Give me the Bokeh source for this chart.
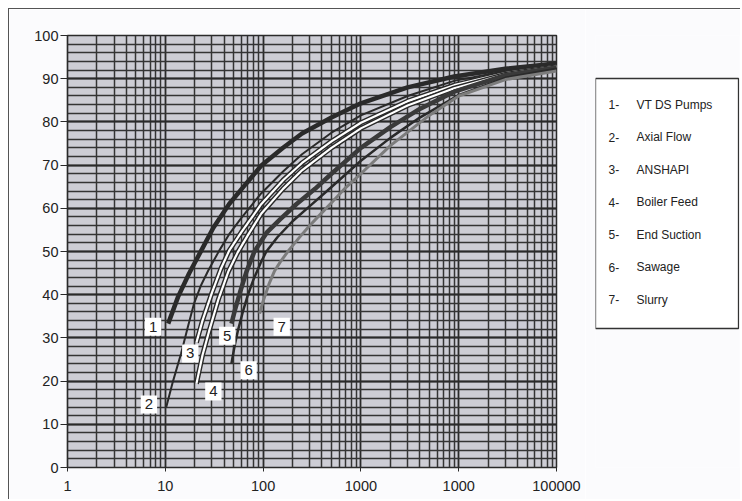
from bokeh.plotting import figure
from bokeh.models import FixedTicker, Range1d, Label
from bokeh.layouts import row
from bokeh.embed import file_html
from bokeh.resources import INLINE
from bokeh.core.properties import value

# ---------------- data ----------------
x_tick_values = [1, 10, 100, 1000, 10000, 100000]
x_tick_labels = ["1", "10", "100", "1000", "1000", "100000"]
y_tick_values = [0, 10, 20, 30, 40, 50, 60, 70, 80, 90, 100]

c1_x = [10.7, 13.5, 17.5, 23.3, 31, 45, 67, 96, 160, 250, 500, 1000, 3000, 9000, 30000, 100000]
c1_y = [33.3, 39.5, 44.9, 50.2, 55.5, 61, 65.7, 69.9, 74, 77.3, 81, 84.3, 88, 90.5, 92.3, 93.5]

c2_x = [10.2, 12, 14.5, 17, 19.7, 23, 27.5, 35.6, 45, 60, 96, 160, 250, 500, 1000, 3000, 9000, 30000, 100000]
c2_y = [13.9, 20, 26.4, 32.5, 38, 42, 45.6, 50.2, 54, 57.8, 63.5, 68.5, 72.5, 77.5, 81.5, 86, 89.5, 91.8, 93.2]

c3_x = [20.8, 24, 30, 37, 45, 60, 96, 160, 250, 500, 1000, 3000, 9000, 30000, 100000]
c3_y = [28.9, 34, 40.5, 46, 50.2, 54.5, 61, 66.5, 70.5, 75.5, 79.8, 84.8, 88.5, 91.3, 93]

c4_x = [20.8, 24, 28, 35, 44, 55, 70, 96, 160, 250, 500, 1000, 3000, 9000, 30000, 100000]
c4_y = [19.4, 26, 31.5, 39, 45.3, 49.8, 53.8, 58.8, 64.5, 68.8, 74, 78.5, 83.8, 87.8, 91, 92.8]

c5_x = [47.5, 52, 58, 67.5, 81.5, 110, 150, 220, 340, 500, 1000, 2000, 4000, 9000, 30000, 100000]
c5_y = [33.3, 36.8, 40.5, 45.3, 50, 54.5, 57.5, 61, 64.5, 68, 74, 78.8, 83, 87, 90.8, 92.6]

c6_x = [47.5, 51, 55, 62, 70, 80, 95, 108, 140, 200, 300, 450, 1000, 2000, 4000, 10000, 30000, 100000]
c6_y = [24.1, 28, 31.5, 36, 40, 43.6, 47.5, 50, 53.3, 57, 60.5, 64, 71, 76.3, 81, 86.2, 90.2, 92.3]

c7_x = [92, 100, 115, 131, 150, 182, 240, 300, 400, 500, 700, 1000, 2000, 5000, 10000, 30000, 100000]
c7_y = [35.6, 38.5, 42.5, 45.5, 47.6, 50.2, 53.5, 56, 59, 61.3, 64.8, 68, 74.5, 81.5, 86, 89.8, 91.8]

curve_tags = ["1", "2", "3", "4", "5", "6", "7"]
tag_x = [7.5, 6.8, 18.0, 31, 43, 71, 155]
tag_y = [32.6, 14.6, 26.4, 17.6, 30.5, 22.5, 32.6]

legend_nums = ["1-", "2-", "3-", "4-", "5-", "6-", "7-"]
legend_names = ["VT DS Pumps", "Axial  Flow", "ANSHAPI", "Boiler Feed", "End Suction", "Sawage", "Slurry"]

FONT = "Liberation Sans"
DARK = "#2a2a2a"
PAPER = "#fbfbfd"
H = 490

# ---------------- main chart ----------------
p = figure(width=576, height=H, x_axis_type="log",
           x_range=Range1d(1, 100000), y_range=Range1d(0, 100),
           output_backend="svg", toolbar_location=None,
           min_border_left=58, min_border_right=29, min_border_top=26, min_border_bottom=32,
           background_fill_color="#cdcdd5", border_fill_color=PAPER)
p.outline_line_color = DARK
p.outline_line_width = 1.5

minor_x = [m * 10 ** k for k in range(0, 5) for m in range(2, 10)]
xt = FixedTicker(ticks=x_tick_values, minor_ticks=minor_x)
yt = FixedTicker(ticks=y_tick_values, minor_ticks=list(range(0, 101, 2)))
p.xaxis.ticker = xt
p.yaxis.ticker = yt
p.xgrid.ticker = xt
p.ygrid.ticker = yt
p.xaxis.major_label_overrides = {v: s for v, s in zip(x_tick_values, x_tick_labels)}

for g in (p.xgrid, p.ygrid):
    g.grid_line_color = DARK
    g.grid_line_width = 1.8
    g.minor_grid_line_color = "#343434"
    g.minor_grid_line_width = 1.5

for ax in (p.xaxis, p.yaxis):
    ax.axis_line_color = DARK
    ax.axis_line_width = 1.2
    ax.major_tick_line_color = DARK
    ax.major_tick_in = 0
    ax.minor_tick_in = 0
    ax.minor_tick_out = 0
    ax.major_label_text_font = FONT
    ax.major_label_text_font_size = "14.5px"
    ax.major_label_text_color = "#222222"
p.xaxis.major_tick_out = 4
p.xaxis.major_label_standoff = 9
p.yaxis.major_tick_out = 7
p.yaxis.major_label_standoff = 2

# curves
p.line(c1_x, c1_y, line_color=DARK, line_width=4.5)
p.line(c2_x, c2_y, line_color=DARK, line_width=2)
p.line(c3_x, c3_y, line_color=DARK, line_width=5)
p.line(c3_x, c3_y, line_color="white", line_width=2.2)
p.line(c4_x, c4_y, line_color=DARK, line_width=5)
p.line(c4_x, c4_y, line_color="white", line_width=2.2)
p.line(c5_x, c5_y, line_color="#3a3a3a", line_width=4.5)
p.line(c6_x, c6_y, line_color=DARK, line_width=2.5)
p.line(c7_x, c7_y, line_color="#7c7c7c", line_width=3)

for t, tx, ty in zip(curve_tags, tag_x, tag_y):
    p.add_layout(Label(x=tx, y=ty, text=t, text_align="center", text_baseline="middle",
                       text_font=FONT, text_font_size="15px", text_color="#222222",
                       background_fill_color="white", padding=4))

# ---------------- legend panel (frame aligned with main frame; y counted in px from top) ----------------
q = figure(width=155, height=H, x_range=Range1d(0, 144), y_range=Range1d(432, 0),
           output_backend="svg", toolbar_location=None,
           min_border_left=10, min_border_right=1, min_border_top=26, min_border_bottom=32,
           background_fill_color=PAPER, border_fill_color=PAPER)
q.axis.visible = False
q.grid.visible = False
q.outline_line_color = None

q.quad(left=0, right=143, top=43, bottom=293, fill_color="white",
       line_color="#333333", line_width=1.3)

rows_y = [69 + 32.5 * i for i in range(len(legend_nums))]
q.text(x=[13] * len(legend_nums), y=rows_y, text=legend_nums, text_font=value(FONT),
       text_font_size="12px", text_baseline="middle", text_color="#222222")
q.text(x=[41] * len(legend_names), y=rows_y, text=legend_names, text_font=value(FONT),
       text_font_size="12px", text_baseline="middle", text_color="#222222")

layout = row(p, q, styles={"margin-top": "8px", "margin-left": "8px",
                           "border-top": "1px solid #555555", "border-left": "1px solid #555555"})

open("out.html", "w").write(file_html(layout, INLINE))
